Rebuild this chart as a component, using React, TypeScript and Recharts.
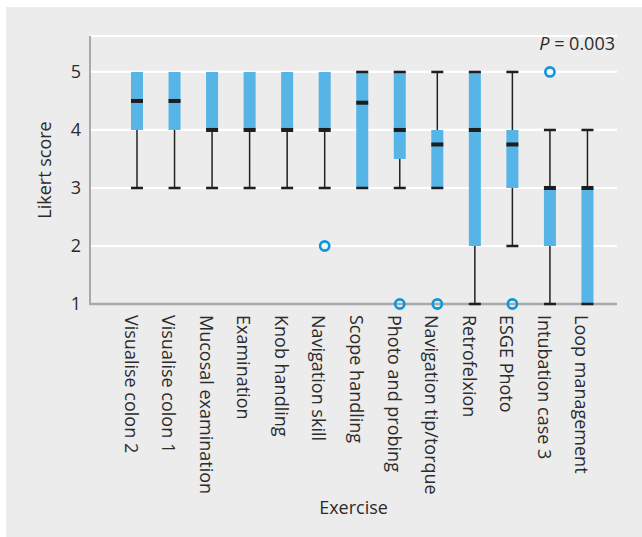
import { Bar, CartesianGrid, ComposedChart, XAxis, YAxis } from 'recharts';

const exercises = [
  'Visualise colon 2',
  'Visualise colon 1',
  'Mucosal examination',
  'Examination',
  'Knob handling',
  'Navigation skill',
  'Scope handling',
  'Photo and probing',
  'Navigation tip/torque',
  'Retrofelxion',
  'ESGE Photo',
  'Intubation case 3',
  'Loop management',
];
const minVals = [3, 3, 3, 3, 3, 3, 3, 3, 3, 1, 2, 1, 1];
const q1Vals = [4, 4, 4, 4, 4, 4, 3, 3.5, 3, 2, 3, 2, 1];
const medianVals = [4.5, 4.5, 4, 4, 4, 4, 4.47, 4, 3.75, 4, 3.75, 3, 3];
const q3Vals = [5, 5, 5, 5, 5, 5, 5, 5, 4, 5, 4, 3, 3];
const maxVals = [5, 5, 5, 5, 5, 5, 5, 5, 5, 5, 5, 4, 4];
const topCapShown = [false, false, false, false, false, false, true, true, true, true, true, true, true];
const outlierVals: number[][] = [[], [], [], [], [], [2], [], [1], [1], [], [1], [5], []];
const yTicks = [1, 2, 3, 4, 5];

const FONT = '"Open Sans", sans-serif';
const TEXT = '#2b2b2b';
const BOX = '#56b4e6';
const RING = '#0b96dc';
const AXIS = '#a7a9ab';

const rows = exercises.map((name, i) => ({
  name,
  min: minVals[i],
  q1: q1Vals[i],
  median: medianVals[i],
  q3: q3Vals[i],
  max: maxVals[i],
  topCap: topCapShown[i],
  outliers: outlierVals[i],
}));

const BoxShape = (props: any) => {
  const { x, y, width, height, payload } = props;
  const top = Math.min(y, y + height);
  const h = Math.abs(height);
  const ppu = h / (payload.max - payload.min);
  const py = (v: number) => top + (payload.max - v) * ppu;
  const cx = x + width / 2;
  return (
    <g>
      <line x1={cx} x2={cx} y1={py(payload.max)} y2={py(payload.min)} stroke="#222" strokeWidth={1.5} />
      <rect x={x} y={py(payload.q3)} width={width} height={py(payload.q1) - py(payload.q3)} fill={BOX} />
      <rect x={x} y={py(payload.median) - 2} width={width} height={4} fill="#1e1e1e" />
      <rect x={x} y={py(payload.min) - 1.25} width={width} height={2.5} fill="#1e1e1e" />
      {payload.topCap && (
        <rect x={x} y={py(payload.max) - 1.25} width={width} height={2.5} fill="#1e1e1e" />
      )}
      {payload.outliers.map((v: number, k: number) => (
        <circle key={k} cx={cx} cy={py(v)} r={4.6} fill="none" stroke={RING} strokeWidth={2.6} />
      ))}
    </g>
  );
};

// white grid lines, except the bottom one which stands in for the x axis line
const GridLine = (props: any) => {
  const { x1, x2, y1, y2, y, height } = props;
  const isBottom = Math.abs(y1 - (y + height)) < 1;
  return (
    <line
      x1={isBottom ? x1 - 1 : x1}
      x2={x2}
      y1={y1}
      y2={y2}
      stroke={isBottom ? AXIS : '#ffffff'}
      strokeWidth={isBottom ? 2.5 : 2.2}
    />
  );
};

const ExerciseTick = ({ x, y, payload }: any) => (
  <text
    transform={`translate(${x - 12},${y + 11}) rotate(90)`}
    fontSize={18}
    fontFamily={FONT}
    fill={TEXT}
  >
    {payload.value}
  </text>
);

const LikertLabel = () => (
  <text
    x={51}
    y={170}
    transform="rotate(-90, 51, 170)"
    textAnchor="middle"
    fontSize={18}
    fontFamily={FONT}
    fill={TEXT}
  >
    Likert score
  </text>
);

export default function App() {
  return (
    <div style={{ position: 'absolute', left: 0, top: 0, width: 642, height: 537, background: '#fff' }}>
      <div
        style={{ position: 'absolute', left: 6, top: 7, width: 636, height: 530, background: '#ebeceb' }}
      />
      <div style={{ position: 'absolute', left: 0, top: 0 }}>
        <ComposedChart
          width={642}
          height={537}
          data={rows}
          margin={{ top: 36, right: 25, left: 40, bottom: 0 }}
        >
          <CartesianGrid horizontal={<GridLine />} vertical={false} />
          <XAxis
            dataKey="name"
            interval={0}
            height={233}
            padding={{ left: 28, right: 11 }}
            tickLine={false}
            tickSize={0}
            tickMargin={0}
            axisLine={false}
            tick={<ExerciseTick />}
            label={{
              value: 'Exercise',
              position: 'insideBottom',
              offset: 23,
              fontSize: 18,
              fontFamily: FONT,
              fill: TEXT,
            }}
          />
          <YAxis
            type="number"
            domain={[1, 5.62]}
            ticks={yTicks}
            width={50}
            tickLine={false}
            tickSize={0}
            tickMargin={9}
            axisLine={{ stroke: AXIS, strokeWidth: 2 }}
            tick={{ fontSize: 18, fontFamily: FONT, fill: TEXT }}
            label={<LikertLabel />}
          />
          <Bar
            dataKey={(d: any) => [d.min, d.max]}
            barSize={12}
            shape={<BoxShape />}
            isAnimationActive={false}
          />
        </ComposedChart>
      </div>
      <svg style={{ position: 'absolute', left: 0, top: 0 }} width={642} height={537}>
        <text x={615} y={50} textAnchor="end" fontSize={18} fontFamily={FONT} fill={TEXT}>
          <tspan fontStyle="italic">P</tspan> = 0.003
        </text>
      </svg>
    </div>
  );
}
